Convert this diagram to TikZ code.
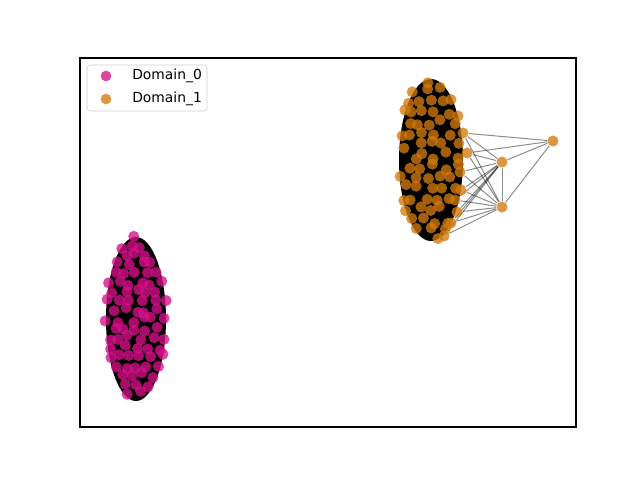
\documentclass[tikz,border=0pt]{standalone}
\usepackage{fontspec}
\setmainfont{DejaVu Sans}
\pgfdeclarelayer{background}
\pgfsetlayers{background,main}
\tikzset{every picture/.style={line width=0.75pt}}

\begin{document}
\begin{tikzpicture}[x=0.75pt,y=0.75pt,yscale=-1,xscale=1,
  dom0/.style={circle,inner sep=0pt,minimum size=8.3pt,fill={rgb, 255:red, 214; green, 16; blue, 136 },fill opacity=0.78},
  dom1/.style={circle,inner sep=0pt,minimum size=8.3pt,fill={rgb, 255:red, 210; green, 122; blue, 10 },fill opacity=0.78},
  link/.style={color=black,draw opacity=0.45,line width=0.75pt}]
\path[use as bounding box] (0,0) rectangle (640,480);

%Axes frame
\draw [line width=0.8pt] (80,58) rectangle (576,427) ;

%Domain_0 cluster
\pgfmathsetseed{11}
\foreach \row in {0,...,18}{
  \foreach \col in {0,...,6}{
    \pgfmathsetmacro{\dx}{-33+11*\col+5.5*mod(\row,2)+7*rnd-3.5}
    \pgfmathsetmacro{\dy}{-82+9.2*\row+6*rnd-3}
    \pgfmathtruncatemacro{\inside}{((\dx/31)^2+(\dy/84)^2)<=1}
    \ifnum\inside=1
      \node [dom0] (a\row-\col) at ({136+\dx},{319+\dy}) {};
    \fi
  }
}

%Domain_1 cluster
\foreach \row in {0,...,15}{
  \foreach \col in {0,...,6}{
    \pgfmathsetmacro{\dx}{-35+12*\col+6*mod(\row,2)+8*rnd-4}
    \pgfmathsetmacro{\dy}{-80+10.8*\row+7*rnd-3.5}
    \pgfmathtruncatemacro{\inside}{((\dx/32)^2+(\dy/83)^2)<=1}
    \ifnum\inside=1
      \node [dom1] (b\row-\col) at ({430+\dx},{160+\dy}) {};
    \fi
  }
}
%right rim of Domain_1
\node [dom1] (r1) at (458,116) {};
\node [dom1] (r2) at (463,133) {};
\node [dom1] (r3) at (467,153) {};
\node [dom1] (r4) at (460,172) {};
\node [dom1] (r5) at (461,190) {};
\node [dom1] (r6) at (455,200) {};
\node [dom1] (r7) at (457,212) {};
\node [dom1] (r8) at (451,223) {};
\node [dom1] (r9) at (444,236) {};
%outliers of Domain_1
\node [dom1] (p1) at (502,162) {};
\node [dom1] (p2) at (502,207) {};
\node [dom1] (p3) at (553,141) {};

\begin{pgfonlayer}{background}
%dense edges inside clusters
\fill [black] (136,319) ellipse [x radius=30, y radius=82] ;
\fill [black] (431,160) ellipse [x radius=32, y radius=81] ;
%Straight Lines
\foreach \j in {2,...,9}{
  \draw [link] (p1) -- (r\j) ;
  \draw [link] (p2) -- (r\j) ;
}
\draw [link] (p3) -- (r2) ;
\draw [link] (p3) -- (r3) ;
\draw [link] (p3) -- (p1) ;
\draw [link] (p3) -- (p2) ;
\draw [link] (p1) -- (p2) ;
\end{pgfonlayer}

%Legend
\draw [draw={rgb, 255:red, 204; green, 204; blue, 204 },fill=white,fill opacity=0.8,rounded corners=2.5] (87,65) rectangle (207,111) ;
\node [dom0,minimum size=8pt] (key0) at (106,76) {};
\node [dom1,minimum size=8pt] (key1) at (106,99) {};
% Text Node
\node [anchor=west,inner sep=0pt,font=\fontsize{10.4}{12.5}\selectfont] (lab0) at (132,76) {Domain\_0};
% Text Node
\node [anchor=west,inner sep=0pt,font=\fontsize{10.4}{12.5}\selectfont] (lab1) at (132,99) {Domain\_1};

\end{tikzpicture}
\end{document}
